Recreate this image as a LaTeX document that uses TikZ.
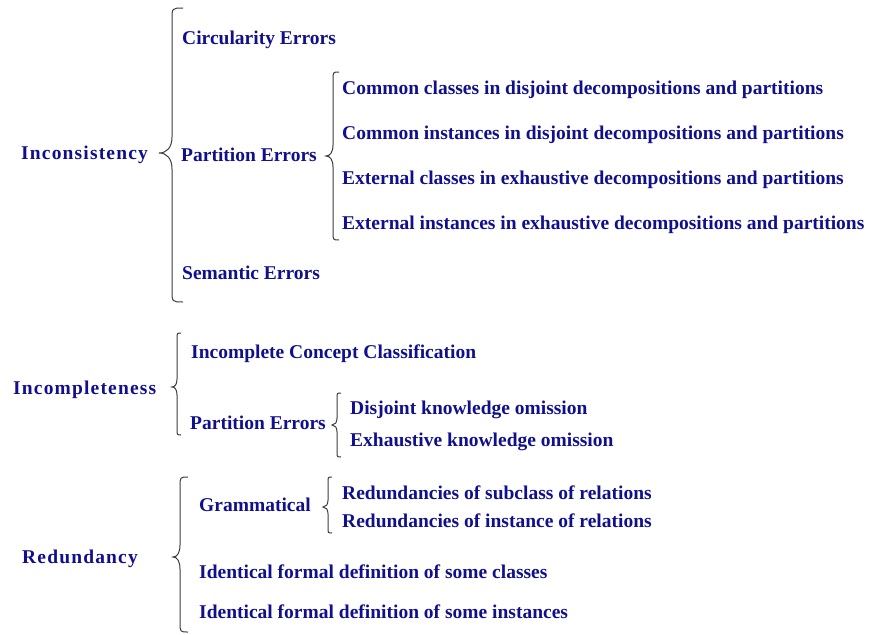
\documentclass[tikz,border=0pt]{standalone}
\usepackage{fontspec}
\setmainfont{Liberation Serif}
\definecolor{encre}{RGB}{16,16,140}
\definecolor{trait}{RGB}{60,60,60}

% accolade : x du trait, haut, pointe, bas, crochet, profondeur, demi-pointe, courbe
\newcommand{\accolade}[8]{%
  \draw[brc] (#1+#5,#2) .. controls (#1,#2) and (#1,#2) .. (#1,#2+#8)
    -- (#1,#3-#7) .. controls (#1,#3-0.35*#7) and (#1-0.4*#6,#3) .. (#1-#6,#3)
    .. controls (#1-0.4*#6,#3) and (#1,#3+0.35*#7) .. (#1,#3+#7)
    -- (#1,#4-#8) .. controls (#1,#4) and (#1,#4) .. (#1+#5,#4);}

\begin{document}
\begin{tikzpicture}[x=1pt,y=-1pt,
    leaf/.style={anchor=west, inner sep=0pt, text=encre, text height=13pt, text depth=0pt,
                 font=\fontsize{19.5}{20}\selectfont\bfseries},
    cat/.style={leaf, font=\fontsize{19.5}{20}\selectfont\bfseries\addfontfeature{LetterSpace=6}},
    brc/.style={draw=trait, line width=1pt}]
    \useasboundingbox (0,0) rectangle (869,634);

    % Incoherence
    \node[cat] (inc) at (21,153) {Inconsistency};
    \node[leaf] (circ) at (182,38) {Circularity Errors};
    \node[leaf] (part) at (181,155) {Partition Errors};
    \node[leaf] (sem) at (182,273) {Semantic Errors};
    \node[leaf] (pc1) at (342,88) {Common classes in disjoint decompositions and partitions};
    \node[leaf] (pc2) at (342,133) {Common instances in disjoint decompositions and partitions};
    \node[leaf] (pc3) at (342,178) {External classes in exhaustive decompositions and partitions};
    \node[leaf] (pc4) at (342,223) {External instances in exhaustive decompositions and partitions};
    \accolade{172}{8}{153}{302}{11}{13}{16}{12}
    \accolade{333}{72}{156}{240}{6}{7}{11}{8}

    % Incompletude
    \node[cat] (incp) at (13,388) {Incompleteness};
    \node[leaf] (icc) at (191,352) {Incomplete Concept Classification};
    \node[leaf] (part2) at (190,423) {Partition Errors};
    \node[leaf] (dko) at (350,408) {Disjoint knowledge omission};
    \node[leaf] (eko) at (350,440) {Exhaustive knowledge omission};
    \accolade{177}{333}{387}{435}{4}{5}{8}{6}
    \accolade{337}{393}{425}{457}{4}{5}{7}{5}

    % Redondance
    \node[cat] (red) at (22,557) {Redundancy};
    \node[leaf] (gram) at (199,505) {Grammatical};
    \node[leaf] (rsub) at (342,493) {Redundancies of subclass of relations};
    \node[leaf] (rins) at (342,521) {Redundancies of instance of relations};
    \node[leaf] (idc) at (199,572) {Identical formal definition of some classes};
    \node[leaf] (idi) at (199,612) {Identical formal definition of some instances};
    \accolade{180}{477}{557}{632}{8}{7}{12}{10}
    \accolade{328}{477}{507}{533}{4}{5}{7}{5}
\end{tikzpicture}
\end{document}
